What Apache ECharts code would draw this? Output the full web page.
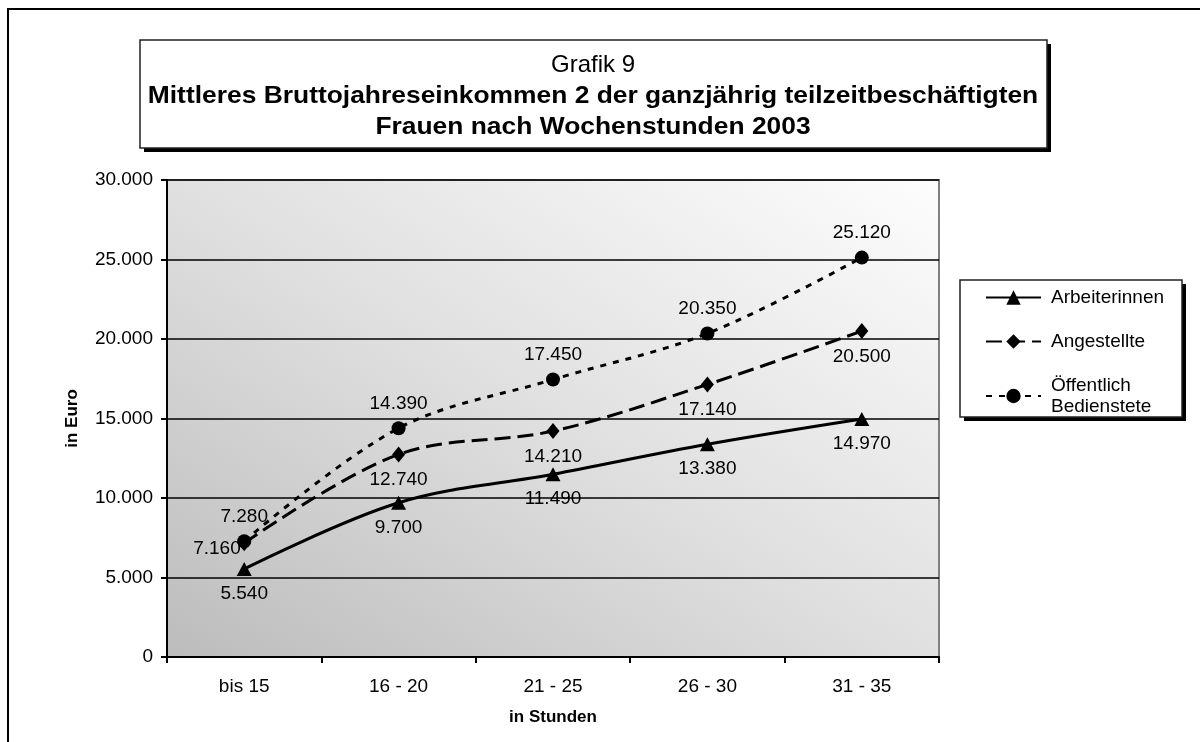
<!DOCTYPE html>
<html>
<head>
<meta charset="utf-8">
<script src="https://cdn.jsdelivr.net/npm/echarts@6/dist/echarts.min.js"></script>
<style>
html,body{margin:0;padding:0;background:#fff;}
#chart{width:1200px;height:742px;}
</style>
</head>
<body>
<div id="chart"></div>
<script>
const categories = ['bis 15', '16 - 20', '21 - 25', '26 - 30', '31 - 35'];
const arbeiterinnen = [5540, 9700, 11490, 13380, 14970];
const angestellte = [7160, 12740, 14210, 17140, 20500];
const oeffentlich = [7280, 14390, 17450, 20350, 25120];
const seriesNames = ['Arbeiterinnen', 'Angestellte', 'Öffentlich\nBedienstete'];
const titleLines = ['Grafik 9', 'Mittleres Bruttojahreseinkommen 2 der ganzjährig teilzeitbeschäftigten', 'Frauen nach Wochenstunden 2003'];
const yTicks = { min: 0, max: 30000, interval: 5000 };

const FONT = "'Liberation Sans', Arial, sans-serif";
function fmt(v) { return String(v).replace(/\B(?=(\d{3})+(?!\d))/g, '.'); }

const chart = echarts.init(document.getElementById('chart'));

const labelBase = { show: true, fontSize: 19, color: '#000', fontFamily: FONT, formatter: p => fmt(p.value) };

const option = {
  animation: false,
  backgroundColor: '#fff',
  textStyle: { fontFamily: FONT },
  grid: {
    left: 167, top: 180, right: 261, bottom: 85,
    show: true,
    borderColor: '#808080', borderWidth: 2,
    backgroundColor: {
      type: 'linear', global: true, x: 766, y: 73, x2: 340, y2: 764,
      colorStops: [{ offset: 0, color: '#fdfdfd' }, { offset: 0.5, color: '#e0e0e0' }, { offset: 1, color: '#bcbcbc' }]
    }
  },
  legend: {
    orient: 'vertical',
    left: 980, top: 282,
    itemWidth: 55, itemHeight: 18, itemGap: 23,
    textStyle: { fontSize: 19, color: '#000', fontFamily: FONT, lineHeight: 21, padding: [0, 0, 0, 5] },
    data: seriesNames
  },
  xAxis: {
    type: 'category',
    data: categories,
    boundaryGap: true,
    axisLine: { lineStyle: { color: '#000', width: 2 } },
    axisTick: { show: true, length: 6, lineStyle: { color: '#000', width: 2 } },
    axisLabel: { fontSize: 19, color: '#000', margin: 20, fontFamily: FONT },
    name: 'in Stunden', nameLocation: 'middle', nameGap: 52,
    nameTextStyle: { fontSize: 17, fontWeight: 'bold', color: '#000', fontFamily: FONT }
  },
  yAxis: {
    type: 'value',
    min: yTicks.min, max: yTicks.max, interval: yTicks.interval,
    axisLine: { show: true, lineStyle: { color: '#000', width: 2 } },
    axisTick: { show: true, length: 6, lineStyle: { color: '#000', width: 2 } },
    axisLabel: { fontSize: 19, color: '#000', margin: 14, fontFamily: FONT, formatter: v => fmt(v) },
    splitLine: { show: true, lineStyle: { color: '#000', width: 1.5 } },
    name: 'in Euro', nameLocation: 'middle', nameGap: 86,
    nameTextStyle: { fontSize: 17, fontWeight: 'bold', color: '#000', fontFamily: FONT }
  },
  series: [
    {
      name: seriesNames[0], type: 'line', smooth: 0.35,
      data: arbeiterinnen,
      symbol: 'triangle', symbolSize: [15, 14],
      lineStyle: { color: '#000', width: 3, type: 'solid' },
      itemStyle: { color: '#000' },
      label: Object.assign({}, labelBase, { position: 'bottom', distance: 8 }),
      z: 3
    },
    {
      name: seriesNames[1], type: 'line', smooth: 0.35,
      data: angestellte.map((v, i) => i === 0 ? { value: v, label: { position: 'left', distance: -3, offset: [0, 6] } } : v),
      symbol: 'diamond', symbolSize: [13, 16],
      lineStyle: { color: '#000', width: 3, type: [16, 7] },
      itemStyle: { color: '#000' },
      label: Object.assign({}, labelBase, { position: 'bottom', distance: 8 }),
      z: 3
    },
    {
      name: seriesNames[2], type: 'line', smooth: 0.35,
      data: oeffentlich,
      symbol: 'circle', symbolSize: 14,
      lineStyle: { color: '#000', width: 3, type: [6, 7] },
      itemStyle: { color: '#000' },
      label: Object.assign({}, labelBase, { position: 'top', distance: 8 }),
      z: 3
    }
  ],
  graphic: [
    { type: 'rect', z: 0, shape: { x: 8, y: 9, width: 1400, height: 1000 }, style: { fill: 'none', stroke: '#000', lineWidth: 2 } },
    { type: 'rect', z: 1, shape: { x: 144, y: 44, width: 907, height: 108 }, style: { fill: '#000' } },
    { type: 'rect', z: 2, shape: { x: 140, y: 40, width: 907, height: 108 }, style: { fill: '#fff', stroke: '#222', lineWidth: 1.5 } },
    { type: 'text', z: 3, x: 593, y: 65, style: { text: titleLines[0], font: '24px ' + FONT, fill: '#000', textAlign: 'center', textVerticalAlign: 'middle' } },
    { type: 'group', z: 3, x: 593, y: 0, scaleX: 1.1, children: [
      { type: 'text', z: 3, x: 0, y: 96, style: { text: titleLines[1], font: 'bold 24px ' + FONT, fill: '#000', textAlign: 'center', textVerticalAlign: 'middle' } },
      { type: 'text', z: 3, x: 0, y: 127, style: { text: titleLines[2], font: 'bold 24px ' + FONT, fill: '#000', textAlign: 'center', textVerticalAlign: 'middle' } }
    ] },
    { type: 'rect', z: 1, shape: { x: 964, y: 284, width: 222, height: 137 }, style: { fill: '#000' } },
    { type: 'rect', z: 2, shape: { x: 960, y: 280, width: 222, height: 137 }, style: { fill: '#fff', stroke: '#222', lineWidth: 1.5 } }
  ]
};
chart.setOption(option);
</script>
</body>
</html>
